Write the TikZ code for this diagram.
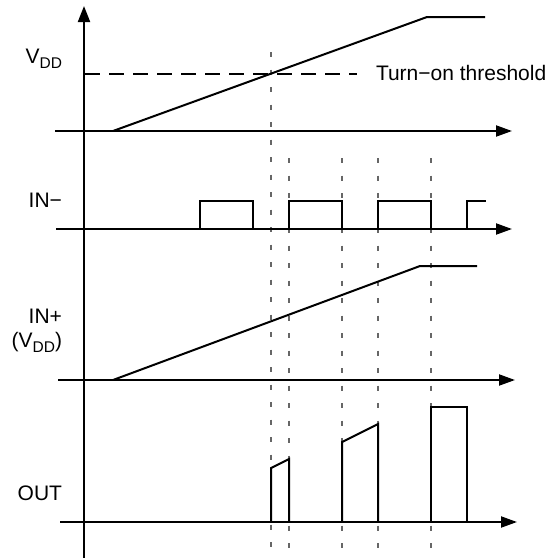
\documentclass[tikz,border=0pt]{standalone}
\usepackage{fontspec}
\setmainfont{Liberation Sans}
\usetikzlibrary{arrows.meta}
\newcommand{\timeaxis}[3]{%
  \draw[-{Triangle[length=16pt,width=11pt]}] (#1,#3) -- (#2,#3);
}
\newcommand{\inpulse}[2]{%
  \draw (#1,229) -- (#1,201) -- (#2,201) -- (#2,229);
}
\newcommand{\outpulse}[4]{%
  \draw (#1,522) -- (#1,#2) -- (#3,#4) -- (#3,522);
}
\newcommand{\lowsub}[1]{\raisebox{-5pt}{\fontsize{15.5}{17}\selectfont #1}}

\begin{document}
\begin{tikzpicture}[x=1pt,y=-1pt,line width=2pt,
  every node/.style={font=\fontsize{21}{24}\selectfont,inner sep=0pt},
  guide/.style={line width=1.3pt,draw=black!60,dash pattern=on 5pt off 12.5pt}]
  \useasboundingbox (0,0) rectangle (556,558);
  % guide lines
  \draw[guide] (271,52) -- (271,558);
  \foreach \x in {289,342,378,431}
    \draw[guide] (\x,158) -- (\x,558);
  % axes
  \draw[-{Triangle[length=16pt,width=12pt]}] (84,558) -- (84,6);
  \timeaxis{55}{512}{131}
  \timeaxis{56}{512}{229}
  \timeaxis{58}{515}{380}
  \timeaxis{60}{517}{522}
  % labels
  \node[anchor=base east] (vdd) at (63,63) {V\lowsub{DD}};
  \node[anchor=base east] (inm) at (63,207) {IN−};
  \node[anchor=base east] (inp) at (63,323) {IN+};
  \node[anchor=base east] (inpv) at (63,347) {(V\lowsub{DD})};
  \node[anchor=base east] (out) at (63,500) {OUT};
  % supply
  \draw[dash pattern=on 15pt off 9pt] (85,74) -- (357,74);
  \node[anchor=base west] (thr) at (375,80) {Turn−on threshold};
  \draw (113,131) -- (427,17) -- (485,17);
  % IN-
  \foreach \a/\b in {200/253,289/342,378/431} {\inpulse{\a}{\b}}
  \draw (467,229) -- (467,201) -- (486,201);
  % IN+
  \draw (113,380) -- (420,266) -- (477,266);
  % OUT
  \outpulse{271}{468}{289}{459}
  \outpulse{342}{442}{378}{424}
  \outpulse{431}{407}{467}{407}
\end{tikzpicture}
\end{document}
